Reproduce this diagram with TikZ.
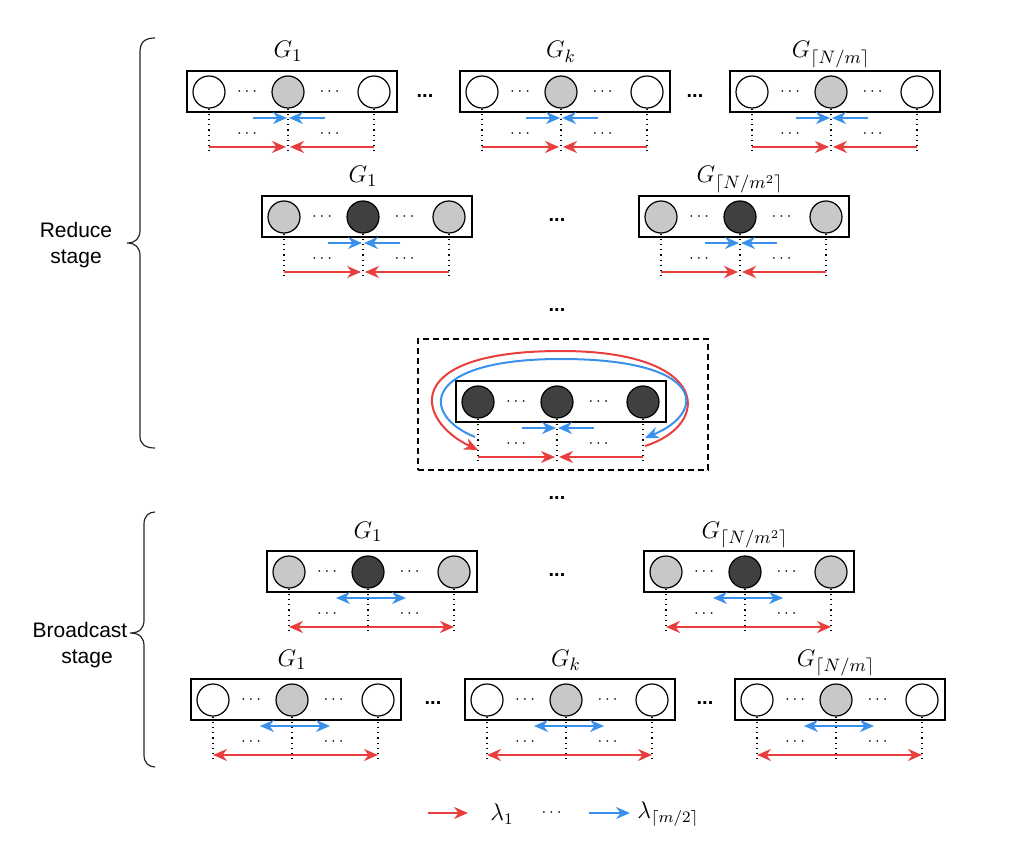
\documentclass[tikz,border=0pt]{standalone}
\usepackage{fontspec}
\usepackage{amsmath}
\newfontfamily\arialf{Liberation Sans}
\usetikzlibrary{arrows.meta}
\definecolor{myred}{RGB}{232,62,62}
\definecolor{myblue}{RGB}{58,145,235}
\definecolor{lgray}{RGB}{200,200,200}
\definecolor{dgray}{RGB}{64,64,64}
\tikzset{
  cir/.style={circle,draw=black,line width=0.6pt,minimum size=16pt,inner sep=0pt},
  gbox/.style={draw=black,line width=1pt,minimum width=105pt,minimum height=20.5pt,inner sep=0pt},
  dotl/.style={dotted,line width=0.6pt},
  redar/.style={draw=myred,line width=1pt,-{Stealth[length=7pt,width=6pt]}},
  bluear/.style={draw=myblue,line width=1pt,-{Stealth[length=7pt,width=6pt]}},
  reddbl/.style={draw=myred,line width=1pt,{Stealth[length=7pt,width=6pt]}-{Stealth[length=7pt,width=6pt]}},
  bluedbl/.style={draw=myblue,line width=1pt,{Stealth[length=7pt,width=6pt]}-{Stealth[length=7pt,width=6pt]}},
  smdots/.style={inner sep=0pt,font=\fontsize{8.5}{9}\selectfont},
  bigdots/.style={inner sep=0pt,font=\arialf\bfseries\fontsize{10}{11}\selectfont},
  glab/.style={anchor=base,inner sep=0pt,font=\fontsize{13}{15}\selectfont},
  stxt/.style={inner sep=0pt,font=\arialf\fontsize{10.5}{13}\selectfont},
  bracel/.style={line width=0.6pt,draw=black!85},
}
% #1 prefix, #2 x of left circle, #3 y of circles, #4 outer fill, #5 middle fill, #6 label
\newcommand\grpbase[6]{%
  \pgfmathsetmacro\xM{#2+79}%
  \pgfmathsetmacro\xR{#2+165}%
  \pgfmathsetmacro\xB{#2+83}%
  \node[gbox] (#1box) at (\xB,#3-0.5) {};
  \node[cir,fill=#4] (#1l) at (#2,#3) {};
  \node[cir,fill=#5] (#1m) at (\xM,#3) {};
  \node[cir,fill=#4] (#1r) at (\xR,#3) {};
  \node[smdots] (#1d1) at ({(#2+\xM)/2},#3) {$\cdots$};
  \node[smdots] (#1d2) at ({(\xM+\xR)/2},#3) {$\cdots$};
  \node[smdots] (#1d3) at ({(#2+\xM)/2},#3+42) {$\cdots$};
  \node[smdots] (#1d4) at ({(\xM+\xR)/2},#3+42) {$\cdots$};
  \node[glab] (#1lab) at (\xM,#3-34) {#6};
  \coordinate (#1le) at (#2,#3+61);
  \coordinate (#1me) at (\xM,#3+61);
  \coordinate (#1re) at (\xR,#3+61);
  \draw[dotl] (#1l.south) -- (#1le);
  \draw[dotl] (#1m.south) -- (#1me);
  \draw[dotl] (#1r.south) -- (#1re);
  \coordinate (#1rl) at (#2,#3+55);
  \coordinate (#1rm) at (\xM,#3+55);
  \coordinate (#1rr) at (\xR,#3+55);
}
\newcommand\grpR[6]{%
  \grpbase{#1}{#2}{#3}{#4}{#5}{#6}%
  \coordinate (#1bl) at (\xM-35,#3+26);
  \coordinate (#1bm) at (\xM,#3+26);
  \coordinate (#1br) at (\xM+37,#3+26);
  \draw[bluear,shorten >=0.5pt] (#1bl) -- (#1bm);
  \draw[bluear,shorten >=0.5pt] (#1br) -- (#1bm);
  \draw[redar,shorten >=1pt] (#1rl) -- (#1rm);
  \draw[redar,shorten >=1pt] (#1rr) -- (#1rm);
}
\newcommand\grpB[6]{%
  \grpbase{#1}{#2}{#3}{#4}{#5}{#6}%
  \coordinate (#1bl) at (\xM-32,#3+26);
  \coordinate (#1br) at (\xM+38,#3+26);
  \draw[bluedbl] (#1bl) -- (#1br);
  \draw[reddbl] (#1rl) -- (#1rr);
}
\begin{document}
\begin{tikzpicture}[x=0.5pt,y=-0.5pt]
\useasboundingbox (0,0) rectangle (1017,861);
% ---------- Reduce stage ----------
\grpR{ga}{209}{92}{white}{lgray}{$G_1$}
\grpR{gb}{482}{92}{white}{lgray}{$G_k$}
\grpR{gc}{752}{92}{white}{lgray}{$G_{\lceil N/m\rceil}$}
\node[bigdots] (da1) at (425,96) {...};
\node[bigdots] (da2) at (695,96) {...};
\grpR{gd}{284}{217}{lgray}{dgray}{$G_1$}
\grpR{ge}{661}{217}{lgray}{dgray}{$G_{\lceil N/m^2\rceil}$}
\node[bigdots] (db1) at (557,220) {...};
\node[bigdots] (dv1) at (557,310) {...};
% final group in dashed frame
\node[draw=black,line width=0.6pt,dash pattern=on 3pt off 2pt,minimum width=145pt,minimum height=65.5pt,inner sep=0pt] (frame) at (563,404.5) {};
\grpR{gf}{478}{402}{dgray}{dgray}{}
\coordinate (rcs) at (645,446);
\coordinate (rct) at (561,351);
\coordinate (rce) at (478,450);
\draw[redar] (rcs) .. controls (712,425) and (712,351) .. (rct)
  .. controls (400,351) and (415,420) .. (rce);
\coordinate (bcs) at (475,437);
\coordinate (bct) at (561,359);
\coordinate (bce) at (645,438);
\draw[bluear] (bcs) .. controls (420,415) and (420,359) .. (bct)
  .. controls (706,359) and (708,412) .. (bce);
\node[bigdots] (dv2) at (557,498) {...};
% ---------- Broadcast stage ----------
\grpB{gg}{289}{572}{lgray}{dgray}{$G_1$}
\grpB{gh}{666}{572}{lgray}{dgray}{$G_{\lceil N/m^2\rceil}$}
\node[bigdots] (dc1) at (557,575) {...};
\grpB{gi}{213}{700}{white}{lgray}{$G_1$}
\grpB{gj}{487}{700}{white}{lgray}{$G_k$}
\grpB{gk}{757}{700}{white}{lgray}{$G_{\lceil N/m\rceil}$}
\node[bigdots] (dd1) at (433,703) {...};
\node[bigdots] (dd2) at (705,703) {...};
% ---------- braces ----------
\draw[bracel] (155,38) .. controls (145,38) and (140,42) .. (140,52) -- (140,230)
  .. controls (140,238) and (136,243) .. (127,243)
  .. controls (136,243) and (140,248) .. (140,256) -- (140,436)
  .. controls (140,444) and (145,448) .. (155,448);
\draw[bracel] (155,512) .. controls (149,512) and (144,516) .. (144,524) -- (144,620)
  .. controls (144,628) and (140,633) .. (130,633)
  .. controls (140,633) and (144,638) .. (144,646) -- (144,755)
  .. controls (144,763) and (149,767) .. (155,767);
\node[stxt,align=center] (rstage) at (76,245) {Reduce\\stage};
\node[stxt,anchor=base] (bst1) at (80,637) {Broadcast};
\node[stxt,anchor=base] (bst2) at (87,663) {stage};
% ---------- legend ----------
\coordinate (lr1) at (428,813);
\coordinate (lr2) at (468,813);
\draw[redar] (lr1) -- (lr2);
\node[inner sep=0pt,font=\fontsize{12}{14}\selectfont] (lam1) at (502,814) {$\lambda_1$};
\node[smdots] (ldots) at (553,813) {$\cdots$};
\coordinate (lb1) at (589,813);
\coordinate (lb2) at (630,813);
\draw[bluear] (lb1) -- (lb2);
\node[inner sep=0pt,anchor=west,font=\fontsize{12}{14}\selectfont] (lam2) at (637,814) {$\lambda_{\lceil m/2\rceil}$};
\end{tikzpicture}
\end{document}
